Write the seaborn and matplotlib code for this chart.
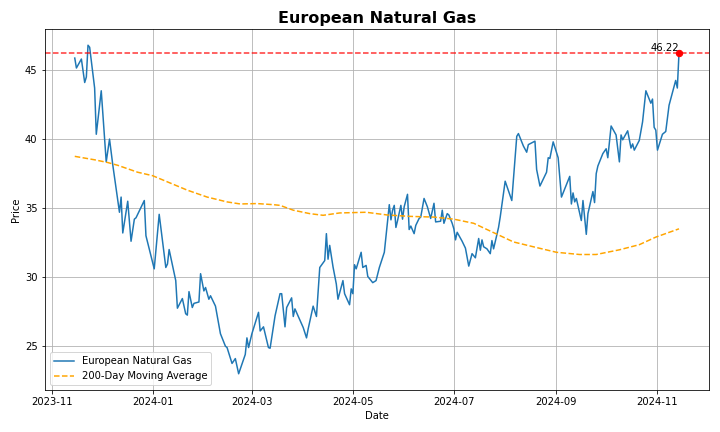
import pandas as pd
import matplotlib
matplotlib.use("Agg")
import matplotlib.pyplot as plt
import seaborn as sns

# ---------------- DATA ----------------
price_dates = [
    "2023-11-15", "2023-11-16", "2023-11-19", "2023-11-21", "2023-11-22", "2023-11-23",
    "2023-11-24", "2023-11-27", "2023-11-28", "2023-12-01", "2023-12-02", "2023-12-04",
    "2023-12-06", "2023-12-08", "2023-12-12", "2023-12-13", "2023-12-14", "2023-12-17",
    "2023-12-19", "2023-12-21", "2023-12-22", "2023-12-27", "2023-12-28", "2024-01-02",
    "2024-01-05", "2024-01-09", "2024-01-10", "2024-01-11", "2024-01-15", "2024-01-16",
    "2024-01-19", "2024-01-21", "2024-01-22", "2024-01-23", "2024-01-25", "2024-01-26",
    "2024-01-29", "2024-01-30", "2024-02-01", "2024-02-02", "2024-02-04", "2024-02-05",
    "2024-02-08", "2024-02-11", "2024-02-14", "2024-02-15", "2024-02-18", "2024-02-20",
    "2024-02-22", "2024-02-26", "2024-02-27", "2024-02-28", "2024-03-01", "2024-03-05",
    "2024-03-06", "2024-03-08", "2024-03-11", "2024-03-12", "2024-03-15", "2024-03-18",
    "2024-03-19", "2024-03-21", "2024-03-22", "2024-03-25", "2024-03-26", "2024-03-27",
    "2024-04-01", "2024-04-03", "2024-04-04", "2024-04-07", "2024-04-09", "2024-04-11",
    "2024-04-14", "2024-04-15", "2024-04-16", "2024-04-17", "2024-04-19", "2024-04-21",
    "2024-04-22", "2024-04-25", "2024-04-26", "2024-04-29", "2024-04-30", "2024-05-01",
    "2024-05-02", "2024-05-03", "2024-05-06", "2024-05-07", "2024-05-09", "2024-05-10",
    "2024-05-13", "2024-05-15", "2024-05-17", "2024-05-20", "2024-05-23", "2024-05-24",
    "2024-05-25", "2024-05-26", "2024-05-27", "2024-05-28", "2024-05-30", "2024-05-31",
    "2024-06-01", "2024-06-03", "2024-06-04", "2024-06-05", "2024-06-07", "2024-06-08",
    "2024-06-10", "2024-06-11", "2024-06-13", "2024-06-15", "2024-06-17", "2024-06-19",
    "2024-06-20", "2024-06-23", "2024-06-24", "2024-06-25", "2024-06-27", "2024-06-28",
    "2024-06-30", "2024-07-01", "2024-07-02", "2024-07-03", "2024-07-06", "2024-07-08",
    "2024-07-10", "2024-07-12", "2024-07-14", "2024-07-16", "2024-07-17", "2024-07-18",
    "2024-07-19", "2024-07-21", "2024-07-23", "2024-07-24", "2024-07-25", "2024-07-28",
    "2024-07-29", "2024-08-01", "2024-08-05", "2024-08-08", "2024-08-09", "2024-08-12",
    "2024-08-14", "2024-08-15", "2024-08-19", "2024-08-20", "2024-08-22", "2024-08-26",
    "2024-08-27", "2024-08-28", "2024-08-30", "2024-09-02", "2024-09-04", "2024-09-09",
    "2024-09-10", "2024-09-11", "2024-09-12", "2024-09-13", "2024-09-16", "2024-09-17",
    "2024-09-19", "2024-09-20", "2024-09-23", "2024-09-24", "2024-09-25", "2024-09-26",
    "2024-09-29", "2024-10-01", "2024-10-02", "2024-10-04", "2024-10-07", "2024-10-09",
    "2024-10-10", "2024-10-11", "2024-10-14", "2024-10-16", "2024-10-17", "2024-10-18",
    "2024-10-21", "2024-10-23", "2024-10-25", "2024-10-28", "2024-10-29", "2024-10-30",
    "2024-10-31", "2024-11-01", "2024-11-04", "2024-11-05", "2024-11-06", "2024-11-08",
    "2024-11-12", "2024-11-13", "2024-11-14",
]
price_values = [
    45.87, 45.15, 45.8, 44.1, 44.5, 46.8,
    46.65, 43.7, 40.35, 43.5, 41.75, 38.35,
    40.0, 38.1, 34.7, 35.8, 33.2, 35.5,
    32.6, 34.2, 34.3, 35.55, 33.0, 30.6,
    34.55, 30.7, 30.95, 32.0, 29.75, 27.75,
    28.45, 27.35, 27.25, 28.95, 27.8, 28.1,
    28.2, 30.25, 29.0, 29.25, 28.4, 28.65,
    27.9, 25.9, 25.0, 24.9, 23.75, 24.1,
    23.0, 24.4, 25.6, 24.9, 25.9, 27.45,
    26.1, 26.4, 24.9, 24.85, 27.2, 28.8,
    28.8, 26.4, 27.8, 28.5, 27.15, 27.7,
    26.35, 25.6, 26.25, 27.9, 27.15, 30.7,
    31.2, 33.15, 31.3, 32.3, 30.75, 29.5,
    28.4, 29.75, 28.8, 28.0, 29.15, 28.8,
    30.9, 30.6, 31.8, 30.7, 30.85, 30.05,
    29.6, 29.75, 30.7, 31.8, 35.25, 34.15,
    34.85, 35.2, 33.6, 34.1, 35.2, 34.2,
    35.1, 36.0, 33.45, 33.7, 33.15, 33.75,
    34.25, 34.35, 35.7, 35.1, 34.25, 35.35,
    34.0, 34.05, 34.85, 33.9, 34.6, 34.5,
    33.9, 33.5, 32.7, 33.25, 32.6, 32.1,
    30.8, 31.7, 31.4, 32.8, 31.95, 32.7,
    32.2, 32.05, 31.7, 32.65, 32.05, 33.6,
    34.35, 36.95, 35.55, 40.2, 40.4, 39.5,
    39.05, 39.6, 39.85, 37.8, 36.6, 37.6,
    38.65, 38.6, 39.8, 38.65, 35.8, 37.3,
    35.3, 36.1, 35.45, 35.7, 34.1, 35.55,
    33.1, 34.6, 36.2, 35.4, 37.5, 38.05,
    38.95, 39.3, 38.65, 40.95, 40.3, 38.35,
    40.3, 39.95, 40.6, 39.35, 39.65, 39.2,
    39.9, 41.25, 43.5, 42.6, 42.9, 40.85,
    40.65, 39.2, 40.35, 40.45, 40.55, 42.45,
    44.25, 43.7, 46.22,
]

ma_dates = [
    "2023-11-15", "2023-11-27", "2023-12-05", "2023-12-11", "2023-12-23", "2024-01-01",
    "2024-01-10", "2024-01-22", "2024-02-03", "2024-02-15", "2024-02-23", "2024-03-04",
    "2024-03-14", "2024-03-18", "2024-03-26", "2024-04-05", "2024-04-13", "2024-04-23",
    "2024-05-09", "2024-05-22", "2024-06-05", "2024-06-19", "2024-07-01", "2024-07-13",
    "2024-07-21", "2024-07-29", "2024-08-06", "2024-08-18", "2024-09-01", "2024-09-15",
    "2024-09-25", "2024-10-09", "2024-10-21", "2024-10-31", "2024-11-14",
]
ma_values = [
    38.75, 38.5, 38.3, 38.1, 37.6, 37.35,
    36.9, 36.3, 35.8, 35.45, 35.3, 35.33,
    35.25, 35.2, 34.85, 34.6, 34.48, 34.65,
    34.7, 34.5, 34.4, 34.35, 34.2, 33.9,
    33.45, 33.0, 32.55, 32.2, 31.8, 31.64,
    31.64, 31.98, 32.35, 32.9, 33.5,
]

price_df = pd.DataFrame({"Date": pd.to_datetime(price_dates), "Price": price_values})
ma_df = pd.DataFrame({"Date": pd.to_datetime(ma_dates), "Price": ma_values})

last_date = price_df["Date"].iloc[-1]
last_price = price_df["Price"].iloc[-1]

# ---------------- PLOT ----------------
plt.figure(figsize=(10, 6), dpi=72)

sns.lineplot(data=price_df, x="Date", y="Price", label="European Natural Gas",
             color="#1f77b4", linewidth=1.5)
sns.lineplot(data=ma_df, x="Date", y="Price", label="200-Day Moving Average",
             color="orange", linestyle="--", linewidth=1.5)

plt.axhline(last_price, color="red", linestyle="--", alpha=0.8, linewidth=1.5)
plt.scatter([last_date], [last_price], color="red", s=40, zorder=5)
plt.text(last_date, last_price, f"{last_price:.2f}", ha="right", va="bottom", fontsize=10)

plt.title("European Natural Gas", fontsize=16, fontweight="bold")
plt.xlabel("Date")
plt.ylabel("Price")
plt.grid(True)
plt.legend(loc="lower left")
plt.tight_layout()

plt.savefig("out.png", dpi=72)
plt.close()
